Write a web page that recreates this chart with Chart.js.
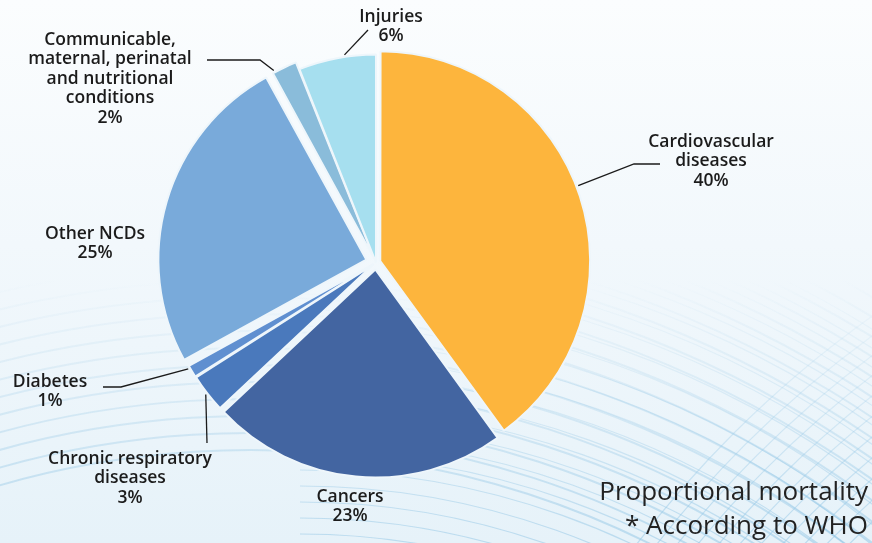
<!DOCTYPE html>
<html>
<head>
<meta charset="utf-8">
<script src="https://cdn.jsdelivr.net/npm/chart.js@4/dist/chart.umd.min.js"></script>
<style>
  html, body { margin: 0; padding: 0; }
  body {
    width: 872px; height: 543px; overflow: hidden;
    background: linear-gradient(180deg, #fbfdfe 0%, #f2f8fc 45%, #e6f2f9 100%);
  }
  #wrap { position: relative; width: 872px; height: 543px; }
</style>
</head>
<body>
<div id="wrap"><canvas id="chart-1" width="872" height="543"></canvas></div>
<script>
/************************ declaring variables *********************************/
const categories = [
  "Cardiovascular diseases",
  "Cancers",
  "Chronic respiratory diseases",
  "Diabetes",
  "Other NCDs",
  "Communicable, maternal, perinatal and nutritional conditions",
  "Injuries"
];
const shares = [40, 23, 3, 1, 25, 2, 6];
const sliceColors = ["#fdb53d", "#4365a1", "#4a79bc", "#5f8fd0", "#79aada", "#8abcda", "#a6dfef"];
// chart.js v4 moves a slice by offset / 4 px
const sliceOffsets = [18, 28, 12, 12, 40, 16, 0];

// label text lines, shown next to each slice
const labelLines = [
  ["Cardiovascular", "diseases", "40%"],
  ["Cancers", "23%"],
  ["Chronic respiratory", "diseases", "3%"],
  ["Diabetes", "1%"],
  ["Other NCDs", "25%"],
  ["Communicable,", "maternal, perinatal", "and nutritional", "conditions", "2%"],
  ["Injuries", "6%"]
];

// where the label block sits (centre x, first line y) and leader line bends
const labelLayout = [
  { x: 711, y: 142, lead: 0.48, bend: [[634, 164], [660, 164]] },
  { x: 350, y: 497 },
  { x: 130, y: 459, lead: 0.5, bend: [[207, 443]] },
  { x: 50, y: 382, lead: 0.8, bend: [[121, 387], [103, 387]] },
  { x: 95, y: 234 },
  { x: 110, y: 40, lead: 0.1, bend: [[260, 60], [207, 60]] },
  { x: 391, y: 17, lead: 0.6, bend: [[368, 30]] }
];

const FONT = '"Open Sans", "Noto Sans", sans-serif';

// faint wave lines in the lower part of the background
const wavesPlugin = {
  id: "waves",
  beforeDraw(chart) {
    const ctx = chart.ctx;
    ctx.save();
    const g = ctx.createLinearGradient(0, 280, 0, 543);
    g.addColorStop(0, "rgba(150,200,230,0)");
    g.addColorStop(1, "rgba(150,200,230,0.55)");
    ctx.strokeStyle = g;
    ctx.lineWidth = 2;
    for (let r = 900; r < 1300; r += 17) {
      ctx.beginPath();
      ctx.arc(250, 1350, r, Math.PI * 1.1, Math.PI * 1.9);
      ctx.stroke();
    }
    ctx.lineWidth = 1.2;
    for (let r = 700; r < 1100; r += 16) {
      ctx.beginPath();
      ctx.arc(1500, 1200, r, Math.PI * 1.0, Math.PI * 1.5);
      ctx.stroke();
      ctx.beginPath();
      ctx.arc(300, 1250, r, Math.PI * 1.5, Math.PI * 1.95);
      ctx.stroke();
    }
    ctx.restore();
  }
};

// labels with leader lines starting on the slice edge
const labelPlugin = {
  id: "sliceLabels",
  afterDatasetsDraw(chart) {
    const ctx = chart.ctx;
    const arcs = chart.getDatasetMeta(0).data;
    ctx.save();
    ctx.fillStyle = "#1b1b1b";
    ctx.strokeStyle = "#1b1b1b";
    ctx.lineWidth = 1.3;
    ctx.font = "600 17.5px " + FONT;
    ctx.textAlign = "center";
    ctx.textBaseline = "middle";
    arcs.forEach(function (arc, i) {
      const lay = labelLayout[i];
      if (lay.lead !== undefined) {
        const mid = (arc.startAngle + arc.endAngle) / 2;
        const a = arc.startAngle + (arc.endAngle - arc.startAngle) * lay.lead;
        const off = (arc.options.offset || 0) / 4;
        const circ = arc.endAngle - arc.startAngle;
        const cx = arc.x + Math.cos(mid) * off;
        const cy = arc.y + Math.sin(mid) * off;
        const r = arc.outerRadius + off * (1 - Math.sin(Math.min(Math.PI, circ))) + 2;
        ctx.beginPath();
        ctx.moveTo(cx + Math.cos(a) * r, cy + Math.sin(a) * r);
        lay.bend.forEach(function (p) { ctx.lineTo(p[0], p[1]); });
        ctx.stroke();
      }
      labelLines[i].forEach(function (line, k) {
        ctx.fillText(line, lay.x, lay.y + k * 19.5);
      });
    });
    // caption, bottom right
    ctx.font = "26px " + FONT;
    ctx.textAlign = "right";
    ctx.fillStyle = "#222";
    ctx.fillText("Proportional mortality", 868, 493);
    ctx.fillText("* According to WHO", 868, 527);
    ctx.restore();
  }
};

/************************* CHART INITIALIZATION ******************************/
const ctxA = document.getElementById("chart-1").getContext("2d");
const myChart1 = new Chart(ctxA, {
  type: "pie",
  data: {
    labels: categories,
    datasets: [
      {
        data: shares,
        backgroundColor: sliceColors,
        borderColor: "#eef6fb",
        borderWidth: 2,
        offset: sliceOffsets,
      },
    ],
  },
  options: {
    responsive: false,
    animation: false,
    radius: 208,
    layout: {
      padding: { left: 0, right: 120, top: 0, bottom: 18 },
    },
    plugins: {
      legend: { display: false },
      tooltip: { enabled: false },
    },
  },
  plugins: [wavesPlugin, labelPlugin],
});
</script>
</body>
</html>
